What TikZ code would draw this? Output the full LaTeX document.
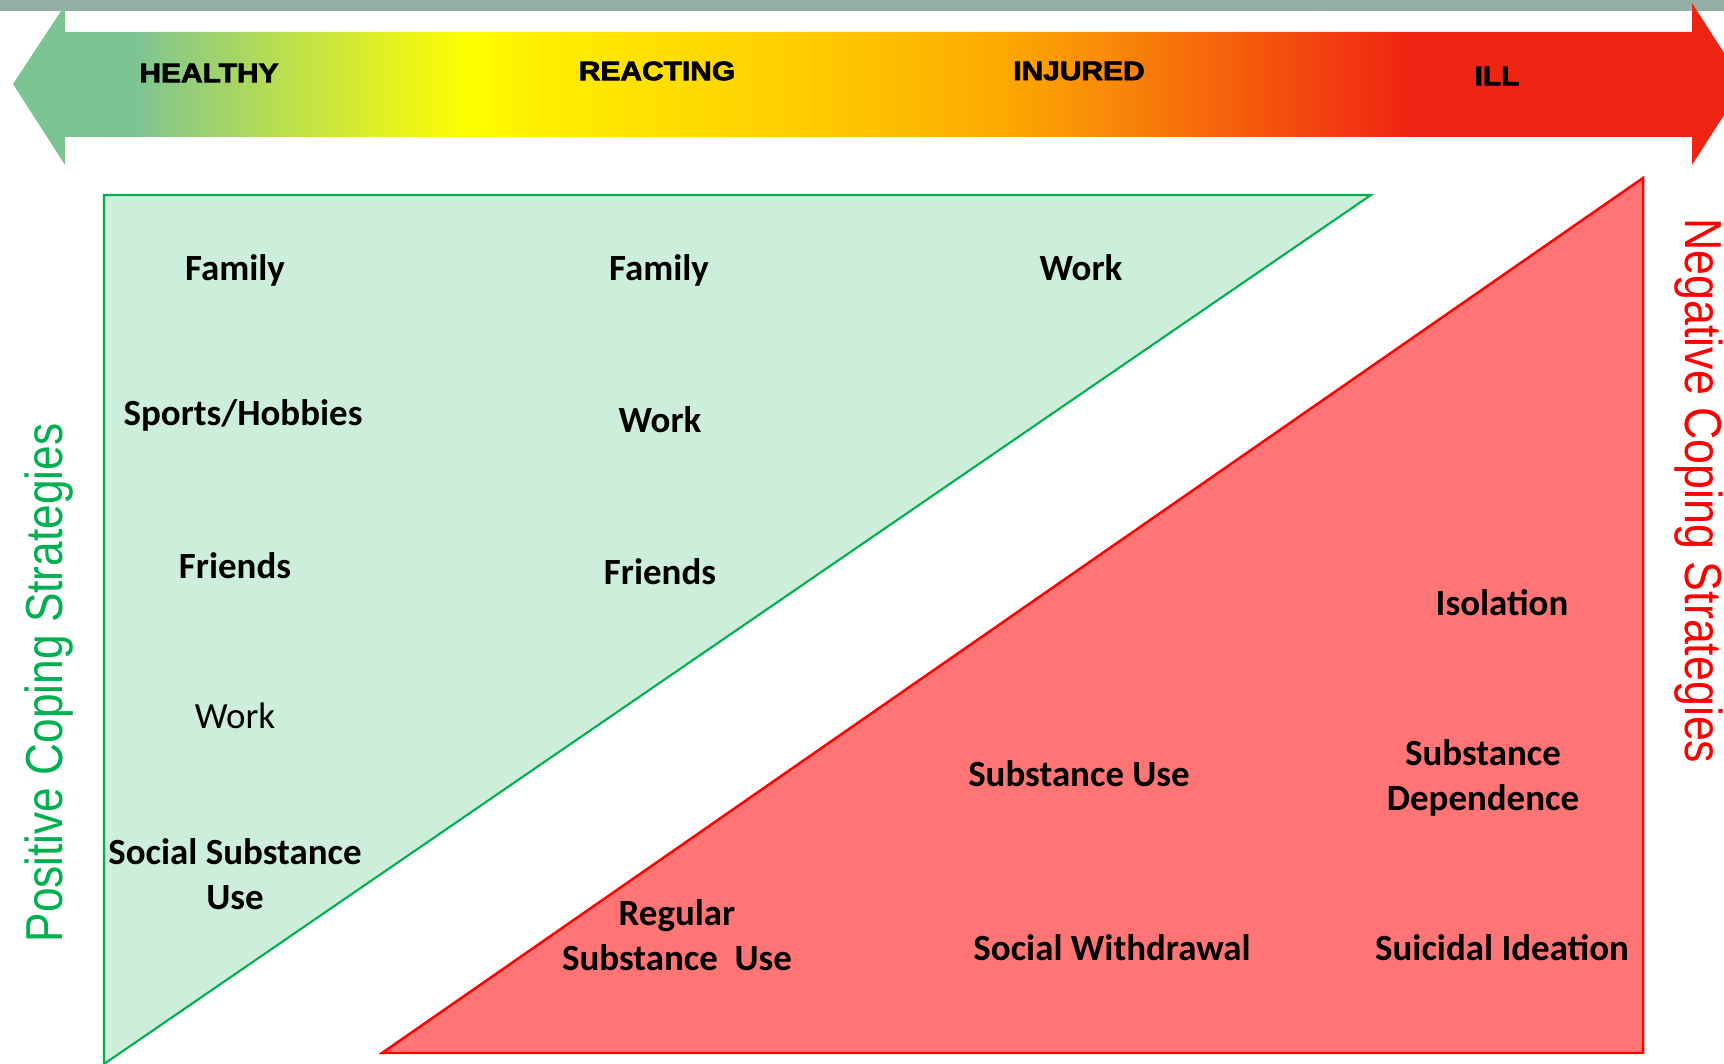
\documentclass[tikz,border=0pt]{standalone}
\usepackage{fontspec}
\usepackage{xcolor}
\setmainfont{Carlito}
\newfontfamily\headfont[FakeBold=2.5]{Liberation Sans Bold}
\newfontfamily\sidefont{Liberation Sans}
\usetikzlibrary{positioning, calc}

\definecolor{bandgrey}{RGB}{148,176,166}
\definecolor{posfill}{RGB}{204,238,218}
\definecolor{posline}{RGB}{0,176,80}
\definecolor{negfill}{RGB}{255,117,117}
\definecolor{negline}{RGB}{255,0,0}
\definecolor{sc0}{RGB}{125,196,147}
\definecolor{sc1}{RGB}{185,222,80}
\definecolor{sc2}{RGB}{255,255,0}
\definecolor{sc3}{RGB}{255,240,0}
\definecolor{sc4}{RGB}{255,205,0}
\definecolor{sc5}{RGB}{252,170,0}
\definecolor{sc6}{RGB}{249,140,8}
\definecolor{sc7}{RGB}{247,106,10}
\definecolor{sc8}{RGB}{240,36,18}

\pgfdeclarehorizontalshading{spectrum}{100bp}{color(0bp)=(sc0); color(28.5bp)=(sc0);
  color(32.7bp)=(sc1); color(38.2bp)=(sc2); color(39.9bp)=(sc3); color(47.7bp)=(sc4);
  color(53.5bp)=(sc5); color(56.4bp)=(sc6); color(59.3bp)=(sc7); color(65.3bp)=(sc8);
  color(100bp)=(sc8)}

\begin{document}
\begin{tikzpicture}[
    x=0.01cm, y=-0.01cm,
    stage/.style={font=\headfont\fontsize{7.6}{9}\selectfont, inner sep=0pt},
    item/.style={font=\bfseries\fontsize{10.5}{12.7}\selectfont, align=center, inner sep=0pt},
    plain/.style={font=\fontsize{10.5}{12.7}\selectfont, align=center, inner sep=0pt},
    side/.style={font=\sidefont\fontsize{14.8}{17}\selectfont, inner sep=0pt}
]
    \clip (0,0) rectangle (1724,1064);

    % Top band
    \fill[bandgrey] (0,0) rectangle (1724,11);

    % Double arrow scale
    \path[shading=spectrum] (13,84) -- (65,5) -- (65,32) -- (1692,32) -- (1692,3)
        -- (1744,84) -- (1692,165) -- (1692,137) -- (65,137) -- (65,165) -- cycle;
    \node[stage] (healthy) at (209,73) {\scalebox{1.12}[1]{HEALTHY}};
    \node[stage] (reacting) at (657,71) {\scalebox{1.12}[1]{REACTING}};
    \node[stage] (injured) at (1079,71) {\scalebox{1.12}[1]{INJURED}};
    \node[stage] (ill) at (1497,76) {\scalebox{1.12}[1]{ILL}};

    % Triangles
    \filldraw[fill=posfill, draw=posline, line width=0.6pt] (104,195) -- (1371,195) -- (104,1064) -- cycle;
    \filldraw[fill=negfill, draw=negline, line width=0.7pt] (1643,178) -- (1643,1053) -- (382,1053) -- cycle;

    % Side labels
    \node[side, text=posline, rotate=90] (poslabel) at (49,683) {\scalebox{0.85}[1]{Positive Coping Strategies}};
    \node[side, text=negline, rotate=-90] (neglabel) at (1699,491) {\scalebox{0.86}[1]{Negative Coping Strategies}};

    % Healthy column
    \node[item] (fam1) at (235,270) {Family};
    \node[item] (hob1) at (243,415) {Sports/Hobbies};
    \node[item] (fri1) at (235,566) {Friends};
    \node[plain] (work1) at (235,716) {Work};
    \node[item] (soc1) at (235,874) {Social Substance\\Use};

    % Reacting column
    \node[item] (fam2) at (659,270) {Family};
    \node[item] (work2) at (660,420) {Work};
    \node[item] (fri2) at (660,572) {Friends};

    % Injured column
    \node[item] (work3) at (1081,268) {Work};
    \node[item] (subuse) at (1079,774) {Substance Use};
    \node[item] (withdraw) at (1112,948) {Social Withdrawal};
    \node[item] (regsub) at (677,935) {Regular\\Substance~~Use};

    % Ill column
    \node[item] (iso) at (1502,603) {Isolation};
    \node[item] (subdep) at (1483,778) {Substance\\Dependence};
    \node[item] (suicide) at (1502,948) {Suicidal Ideation};
\end{tikzpicture}
\end{document}
